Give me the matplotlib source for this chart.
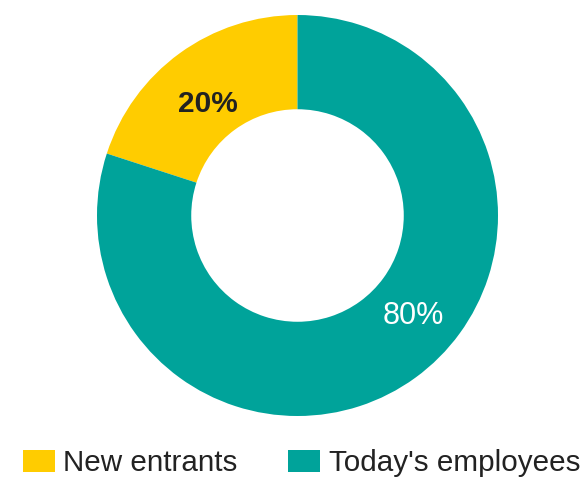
import matplotlib.pyplot as plt
import numpy as np
from matplotlib.patches import Patch

plt.rcParams['font.family'] = ['Liberation Sans', 'DejaVu Sans']

labels = ['New entrants', "Today's employees"]
shares = [20, 80]
colors = ['#FFCC00', '#00A39A']

fig = plt.figure(figsize=(5.85, 4.78), dpi=100)
ax = fig.add_axes([0.1658, 0.1297, 0.6855, 0.8389])

wedges, _ = ax.pie(shares, colors=colors, startangle=90, counterclock=True,
                   radius=1.0, wedgeprops=dict(width=0.47, linewidth=0))
ax.set_xlim(-1, 1)
ax.set_ylim(-1, 1)
ax.set_aspect('equal')
ax.axis('off')

# percentage labels on the ring
ang = np.deg2rad(128.7)
ax.text(0.713 * np.cos(ang), 0.713 * np.sin(ang), f'{shares[0]}%',
        ha='center', va='center', fontsize=21.5, fontweight='bold', color='#222222')
ang = np.deg2rad(-41)
ax.text(0.765 * np.cos(ang), 0.765 * np.sin(ang), f'{shares[1]}%',
        ha='center', va='center', fontsize=22, color='white')

handles = [Patch(facecolor=c, edgecolor='none') for c in colors]
fig.legend(handles, labels, loc='lower left', bbox_to_anchor=(0.0337, -0.005),
           ncol=2, frameon=False, fontsize=21.3, handlelength=1.08,
           handleheight=0.74, handletextpad=0.3, columnspacing=1.69,
           borderaxespad=0, borderpad=0.1, labelcolor='#222222')

fig.savefig('out.png', dpi=100)
